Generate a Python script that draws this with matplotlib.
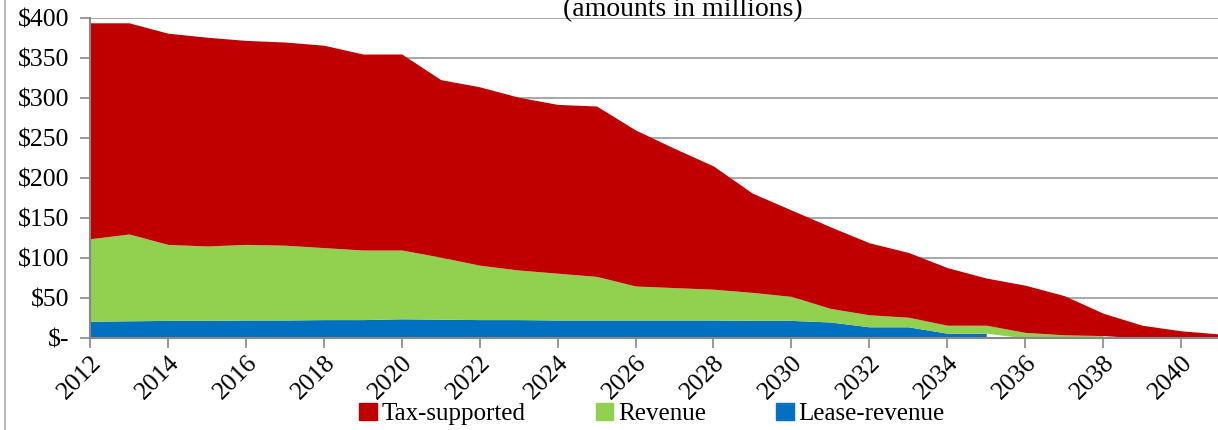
import matplotlib
matplotlib.use("Agg")
import matplotlib.pyplot as plt
import numpy as np
from matplotlib.patches import Patch

plt.rcParams["font.family"] = ["Liberation Serif", "DejaVu Serif"]

years = list(range(2012, 2042))

# lease-revenue debt service (NaN = no value, series ends)
lease = [21, 21.5, 22, 22, 22.5, 22.5, 23, 23, 24, 23.5,
         23, 23, 22.5, 22.5, 22.5, 22.5, 22.5, 22, 22, 20,
         14, 14, 6, 6, np.nan, np.nan, np.nan, np.nan, np.nan, np.nan]
revenue = [103, 108.5, 95, 93, 94.5, 93.5, 90, 87, 86, 77.5,
           68, 62, 58.5, 54.5, 42.5, 40.5, 38.5, 35, 30, 17,
           15, 12, 10, 10, 7, 4, 3, np.nan, np.nan, np.nan]
tax = [270, 264, 264, 261, 255, 254, 253, 245, 245, 222,
       223, 216, 211, 213, 195, 174, 154, 124, 108, 102,
       90, 81, 72, 59, 59, 49, 28, 16, 9, 5]

COLORS = {"tax": "#C00000", "rev": "#92D050", "lease": "#0070C0"}

x = np.array(years, dtype=float)
lease_a = np.array(lease, dtype=float)
rev_a = np.array(revenue, dtype=float)
tax_a = np.array(tax, dtype=float)

base1 = np.nan_to_num(lease_a)
top_rev = base1 + rev_a
base2 = base1 + np.nan_to_num(rev_a)
top_tax = base2 + tax_a

fig = plt.figure(figsize=(12.18, 4.3), dpi=100)
ax = fig.add_axes([90 / 1218, 1 - 338 / 430, 1130 / 1218, 320 / 430])

ax.fill_between(x, 0, lease_a, color=COLORS["lease"], linewidth=0, zorder=3)
ax.fill_between(x, base1, top_rev, color=COLORS["rev"], linewidth=0, zorder=3)
ax.fill_between(x, base2, top_tax, color=COLORS["tax"], linewidth=0, zorder=3)

ax.set_xlim(2012, 2041)
ax.set_ylim(0, 400)
yt = np.arange(0, 401, 50)
ax.set_yticks(yt)
ax.set_yticklabels(["$-" if v == 0 else f"${v}" for v in yt])
ax.set_xticks(range(2012, 2041, 2))
ax.set_xticklabels([str(v) for v in range(2012, 2041, 2)], rotation=45,
                   ha="right", rotation_mode="anchor")
ax.tick_params(axis="both", labelsize=18.5, color="#888888", length=7, width=1.2)
ax.tick_params(axis="x", pad=3)
ax.tick_params(axis="y", pad=8)

ax.grid(axis="y", color="#999999", linewidth=1.2, zorder=1)
for s in ["top", "right"]:
    ax.spines[s].set_visible(False)
for s in ["left", "bottom"]:
    ax.spines[s].set_color("#888888")
    ax.spines[s].set_linewidth(1.5)
    ax.spines[s].set_zorder(4)

# chart frame edge on the left
fig.add_artist(plt.Line2D([5 / 1218, 5 / 1218], [0, 1], color="#aaaaaa", linewidth=1.2))

fig.text(683 / 1218, 1 - 10 / 430, "(amounts in millions)", ha="center", va="center",
         fontsize=20)

handles = [Patch(color=COLORS["tax"], label="Tax-supported"),
           Patch(color=COLORS["rev"], label="Revenue"),
           Patch(color=COLORS["lease"], label="Lease-revenue")]
fig.legend(handles=handles, loc="center", bbox_to_anchor=(652 / 1218, 1 - 414 / 430),
           ncol=3, frameon=False, fontsize=18, handlelength=0.7, handleheight=0.7,
           handletextpad=0.2, columnspacing=2.8)

fig.savefig("out.png", dpi=100)
